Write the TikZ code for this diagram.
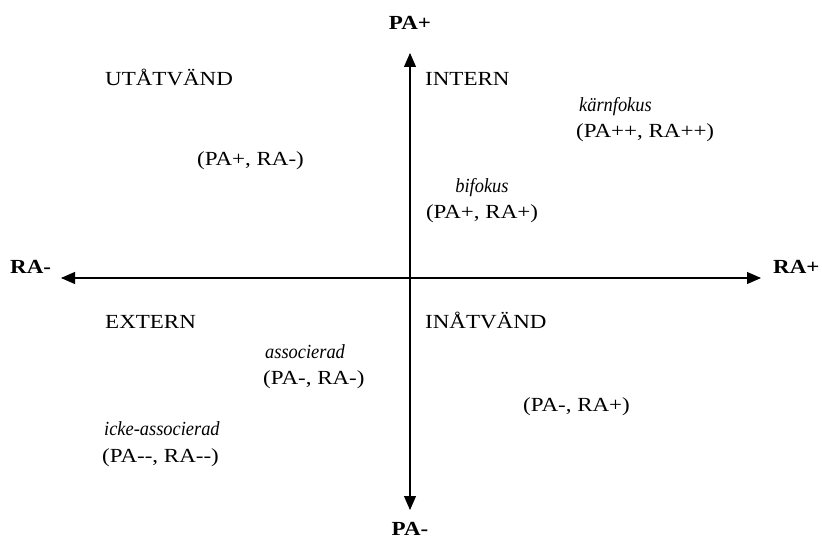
\documentclass[tikz,border=0pt]{standalone}
\usepackage{fontspec}
\setmainfont{Liberation Serif}[FakeStretch=1.15,ItalicFeatures={FakeStretch=0.92}]
\usetikzlibrary{arrows.meta}
\begin{document}
\begin{tikzpicture}[x=1pt,y=-1pt,
  axis/.style={line width=1.1pt,{Triangle[length=14pt,width=12pt]}-{Triangle[length=14pt,width=12pt]}},
  lbl/.style={font=\fontsize{20}{24}\selectfont,inner sep=0pt,anchor=base},
  lbll/.style={lbl,anchor=base west},
  axlbl/.style={font=\fontsize{20}{24}\selectfont\bfseries,inner sep=0pt,anchor=base},
  quad/.style={lbll},
  kind/.style={lbl,font=\fontsize{20}{24}\selectfont\itshape}]
\useasboundingbox (0,0) rectangle (822,543);
\coordinate (top) at (410,53);
\coordinate (bot) at (410,510);
\coordinate (left) at (61,278);
\coordinate (right) at (761,278);
\draw[axis] (bot) -- (top);
\draw[axis] (left) -- (right);
\node[axlbl] (pap) at (410,30) {PA+};
\node[axlbl] (pam) at (410,535) {PA-};
\node[axlbl,anchor=base west] (ram) at (10,273) {RA-};
\node[axlbl,anchor=base west] (rap) at (773,273) {RA+};
\node[quad] (utv) at (105,85) {UTÅTVÄND};
\node[quad] (int) at (425,85) {INTERN};
\node[quad] (ext) at (105,328) {EXTERN};
\node[quad] (inv) at (425,328) {INÅTVÄND};
\node[kind,anchor=base west] (karn) at (579,111) {kärnfokus};
\node[lbll] (karnv) at (576,137) {(PA++, RA++)};
\node[lbll] (pprm) at (197,165) {(PA+, RA-)};
\node[kind] (bif) at (482,192) {bifokus};
\node[lbl] (bifv) at (482,218) {(PA+, RA+)};
\node[kind,anchor=base west] (ass) at (265,358) {associerad};
\node[lbll] (assv) at (263,384) {(PA-, RA-)};
\node[lbll] (pmrp) at (523,411) {(PA-, RA+)};
\node[kind,anchor=base west] (icke) at (104,435) {icke-associerad};
\node[lbll] (ickev) at (102,462) {(PA-{}-, RA-{}-)};
\end{tikzpicture}
\end{document}
